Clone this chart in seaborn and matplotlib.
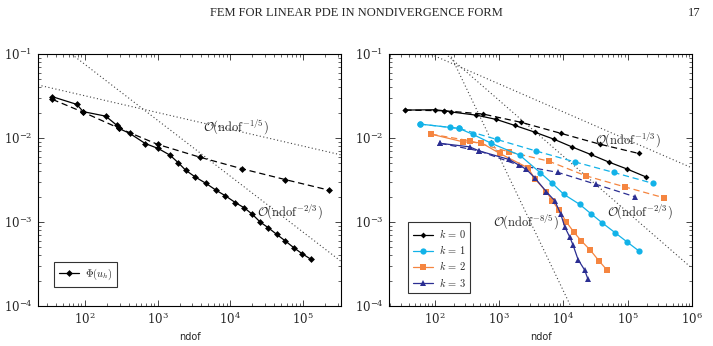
import numpy as np
import matplotlib
matplotlib.use("Agg")
import matplotlib.pyplot as plt
import seaborn as sns

# ---- left panel: Phi(u_h), adaptive (solid) and uniform (dashed)
phi_ad_ndof = [36, 78, 95, 194, 273, 294, 416, 676, 1021, 1479, 1925, 2427, 3264,
               4624, 6350, 8535, 11720, 15590, 20090, 25600, 33340, 43440, 56550,
               73620, 95900, 127600]
phi_ad_err = [0.031, 0.0251, 0.0206, 0.0182, 0.01426, 0.0130, 0.01133, 0.0086,
              0.0075, 0.00625, 0.00507, 0.00414, 0.00345, 0.00288, 0.00239, 0.00205,
              0.0017, 0.00147, 0.00123, 0.0010, 0.00085, 0.00071, 0.000596,
              0.000497, 0.000421, 0.00036]
phi_un_ndof = [36, 95, 294, 1000, 3830, 14450, 56500, 223000]
phi_un_err = [0.0288, 0.0203, 0.0131, 0.0084, 0.0059, 0.0043, 0.0032, 0.0024]

# ---- right panel: k = 0..3, adaptive (solid) and uniform (dashed)
k0_ad_ndof = [35, 100, 140, 182, 445, 910, 1754, 3581, 7080, 13800, 26600, 51300, 98900, 190600]
k0_ad_err = [0.0215, 0.0217, 0.0211, 0.0204, 0.0187, 0.01663, 0.01412, 0.01175,
             0.0097, 0.0078, 0.00637, 0.00516, 0.00426, 0.00345]
k0_un_ndof = [35, 140, 563, 2222, 9310, 36700, 148000]
k0_un_err = [0.0215, 0.0211, 0.0193, 0.01535, 0.01132, 0.00845, 0.00655]

k1_ad_ndof = [58.5, 175, 239, 394, 762, 2100, 4400, 6760, 10140, 17980, 26700,
              40000, 64600, 99300, 149000]
k1_ad_err = [0.01466, 0.01336, 0.0130, 0.01104, 0.00863, 0.00625, 0.00385, 0.00288,
             0.00214, 0.00162, 0.00126, 0.00098, 0.00074, 0.000574, 0.000453]
k1_un_ndof = [58.5, 239, 931, 3820, 15000, 60800, 248000]
k1_un_err = [0.01466, 0.0130, 0.0096, 0.00698, 0.0052, 0.00389, 0.00288]

k2_ad_ndof = [88.8, 275, 532, 1025, 2824, 3590, 5460, 6760, 8570, 11170, 14510,
              19110, 26360, 35900, 47900]
k2_ad_err = [0.0111, 0.00901, 0.00877, 0.00655, 0.00441, 0.00328, 0.00229, 0.00178,
             0.00138, 0.0010, 0.00076, 0.000594, 0.000461, 0.000344, 0.000267]
k2_un_ndof = [88.8, 350, 1430, 5930, 22300, 90200, 368000]
k2_un_err = [0.0111, 0.00927, 0.00685, 0.0053, 0.00355, 0.00262, 0.00194]

k3_ad_ndof = [123, 350, 489, 1432, 2667, 3590, 5460, 7350, 9120, 10520, 12600,
              14170, 16950, 21500, 24200]
k3_ad_err = [0.00863, 0.00785, 0.00703, 0.00555, 0.00423, 0.00336, 0.00229, 0.00179,
             0.00124, 0.000875, 0.00066, 0.00053, 0.000357, 0.000267, 0.000207]
k3_un_ndof = [123, 489, 2023, 8280, 32700, 129000]
k3_un_err = [0.00863, 0.00703, 0.00475, 0.00389, 0.0028, 0.0020]

# reference rates: (exponent, log10 constant, label, label position in log10)
left_rates = [(-1 / 5, -1.097, r"$\mathcal{O}(\mathrm{ndof}^{-1/5})$", (4.08, -1.87)),
              (-2 / 3, 0.211, r"$\mathcal{O}(\mathrm{ndof}^{-2/3})$", (4.82, -2.88))]
right_rates = [(-1 / 3, -0.356, r"$\mathcal{O}(\mathrm{ndof}^{-1/3})$", (5.01, -2.03)),
               (-2 / 3, 0.449, r"$\mathcal{O}(\mathrm{ndof}^{-2/3})$", (5.19, -2.88)),
               (-8 / 5, 2.581, r"$\mathcal{O}(\mathrm{ndof}^{-8/5})$", (3.41, -3.01))]

sns.set_style("ticks")
plt.rcParams["font.family"] = ["DejaVu Serif"]
plt.rcParams["mathtext.fontset"] = "cm"

CYAN = "#12b2e8"
ORANGE = "#f58540"
NAVY = "#2b2e92"

fig = plt.figure(figsize=(7.13, 3.46), dpi=100)
axL = fig.add_axes([38 / 713, 40 / 346, 303 / 713, 252 / 346])
axR = fig.add_axes([389 / 713, 40 / 346, 303 / 713, 252 / 346])


def curve(ax, x, y, color, marker, ms, ls, label="_nolegend_"):
    sns.lineplot(x=x, y=y, ax=ax, color=color, marker=marker, markersize=ms,
                 linestyle=ls, linewidth=0.9, markeredgewidth=0, sort=False,
                 estimator=None, label=label, legend=False)


def rate_lines(ax, rates, xlim):
    xs = np.logspace(np.log10(xlim[0]), np.log10(xlim[1]), 50)
    for p, logc, text, (tx, ty) in rates:
        ys = 10 ** logc * xs ** p
        sns.lineplot(x=xs, y=ys, ax=ax, color="#444444", linestyle=(0, (1, 2.2)),
                     linewidth=0.8, sort=False, estimator=None, legend=False)
        ax.text(10 ** tx, 10 ** ty, text, fontsize=9, ha="center", va="center")


xlimL = (22.8, 3.3e5)
xlimR = (19.5, 1e6)

# left panel
rate_lines(axL, left_rates, xlimL)
curve(axL, phi_un_ndof, phi_un_err, "black", "D", 3.5, (0, (5, 3)))
curve(axL, phi_ad_ndof, phi_ad_err, "black", "D", 3.5, "-", r"$\Phi(u_h)$")

# right panel
rate_lines(axR, right_rates, xlimR)
curve(axR, k0_un_ndof, k0_un_err, "black", "D", 3.0, (0, (5, 3)))
curve(axR, k1_un_ndof, k1_un_err, CYAN, "o", 4.5, (0, (5, 3)))
curve(axR, k2_un_ndof, k2_un_err, ORANGE, "s", 4.5, (0, (5, 3)))
curve(axR, k3_un_ndof, k3_un_err, NAVY, "^", 4.0, (0, (5, 3)))
curve(axR, k0_ad_ndof, k0_ad_err, "black", "D", 3.0, "-", r"$k\,=\,0$")
curve(axR, k1_ad_ndof, k1_ad_err, CYAN, "o", 4.5, "-", r"$k\,=\,1$")
curve(axR, k2_ad_ndof, k2_ad_err, ORANGE, "s", 4.5, "-", r"$k\,=\,2$")
curve(axR, k3_ad_ndof, k3_ad_err, NAVY, "^", 4.0, "-", r"$k\,=\,3$")

for ax, xl, xt in [(axL, xlimL, [1e2, 1e3, 1e4, 1e5]),
                   (axR, xlimR, [1e2, 1e3, 1e4, 1e5, 1e6])]:
    ax.set_xscale("log")
    ax.set_yscale("log")
    ax.set_xlim(*xl)
    ax.set_ylim(1e-4, 1e-1)
    ax.set_xticks(xt)
    ax.set_yticks([1e-4, 1e-3, 1e-2, 1e-1])
    ax.tick_params(which="both", direction="in", top=True, right=True,
                   labelsize=8.5, pad=4)
    ax.tick_params(which="major", length=4, width=0.6)
    ax.tick_params(which="minor", length=2.2, width=0.5)
    for s in ax.spines.values():
        s.set_linewidth(0.8)
        s.set_color("black")
    ax.set_xlabel("ndof", fontsize=7, family="DejaVu Sans", labelpad=3)
    ax.set_ylabel("")
    leg = ax.legend(loc="lower left", fontsize=7.5, frameon=True, fancybox=False,
                    borderpad=0.45, handlelength=2.0, handletextpad=0.5,
                    labelspacing=0.3,
                    bbox_to_anchor=(0.035, 0.055) if ax is axL else (0.045, 0.03))
    leg.get_frame().set_edgecolor("black")
    leg.get_frame().set_linewidth(0.8)

fig.text(0.5, 0.962, "FEM FOR LINEAR PDE IN NONDIVERGENCE FORM", ha="center",
         va="center", fontsize=9, family="Liberation Serif")
fig.text(0.982, 0.962, "17", ha="right", va="center", fontsize=9,
         family="Liberation Serif")

fig.savefig("out.png", dpi=100)
